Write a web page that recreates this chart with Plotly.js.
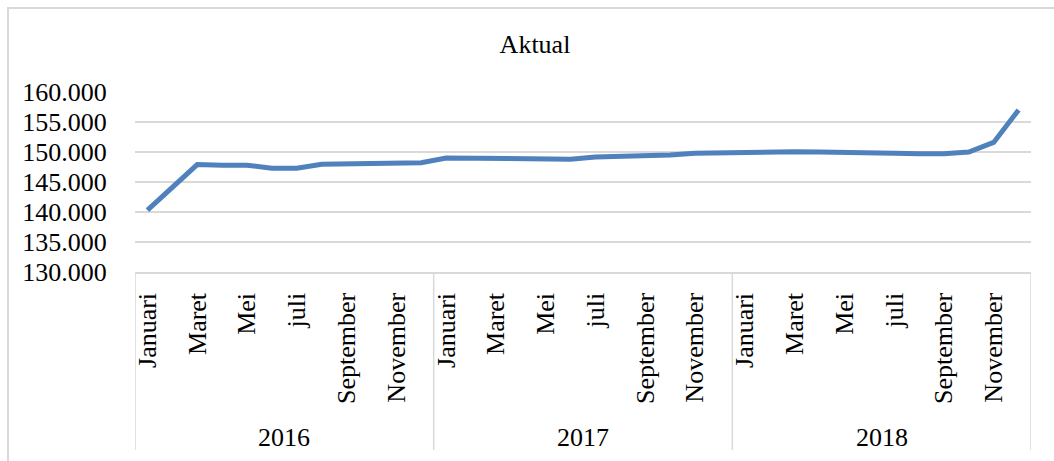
<!DOCTYPE html>
<html>
<head>
<meta charset="utf-8">
<script src="https://cdn.plot.ly/plotly-3.0.1.min.js"></script>
<style>
  html, body { margin: 0; padding: 0; background: #fff; overflow: hidden; }
  #wrap { position: relative; width: 1054px; height: 461px; }
  #chart { position: absolute; left: 0; top: 0; width: 1054px; height: 461px; }
  #frame { position: absolute; left: 7px; top: 7px; width: 1100px; height: 500px;
           border: 2px solid #d9d9d9; pointer-events: none; }
</style>
</head>
<body>
<div id="wrap">
  <div id="chart"></div>
  <div id="frame"></div>
</div>
<script>
const chartTitle = "Aktual";
const years = ["2016", "2017", "2018"];
const months = ["Januari", "Februari", "Maret", "April", "Mei", "Juni",
                "juli", "Agustus", "September", "Oktober", "November", "Desember"];
const values2016 = [140300, 144000, 147900, 147800, 147800, 147300, 147300, 147950, 148050, 148100, 148150, 148200];
const values2017 = [149000, 149000, 148950, 148900, 148900, 148800, 149150, 149200, 149450, 149500, 149800, 149900];
const values2018 = [150050, 150050, 150050, 150000, 150000, 149900, 149800, 149700, 149700, 150000, 151600, 157000];

const allValues = [].concat(values2016, values2017, values2018);
const xIdx = allValues.map((_, i) => i);
const tickIdx = xIdx.filter(i => i % 2 === 0);
const tickTxt = tickIdx.map(i => months[i % months.length]);

const fontFam = "Liberation Serif, Times New Roman, serif";
const gridCol = "#d9d9d9";

const figH = 461, plotTop = 92, plotBottom = 272;
const plotH = plotBottom - plotTop;

const shapes = [];
for (let g = 0; g <= years.length; g++) {
  shapes.push({
    type: "line", xref: "x", yref: "paper",
    x0: g * months.length - 0.5, x1: g * months.length - 0.5,
    y0: 0, y1: -(450 - plotBottom) / plotH,
    line: { color: gridCol, width: 1.5 }
  });
}
const annotations = years.map((y, g) => ({
  text: y, xref: "x", yref: "paper",
  x: g * months.length + (months.length - 1) / 2,
  y: -(437 - plotBottom) / plotH, yanchor: "middle", xanchor: "center",
  showarrow: false, font: { family: fontFam, size: 26, color: "#000" }
}));

Plotly.newPlot("chart", [{
  x: xIdx, y: allValues, type: "scatter", mode: "lines",
  line: { color: "#4f81bd", width: 5 },
  hoverinfo: "skip"
}], {
  width: 1054, height: figH,
  margin: { l: 135, r: 23, t: plotTop, b: figH - plotBottom, pad: 0 },
  paper_bgcolor: "#fff", plot_bgcolor: "#fff",
  separators: ",.",
  showlegend: false,
  title: {
    text: chartTitle, x: 535 / 1054, xanchor: "center",
    xref: "container", yref: "container", y: 1 - 44 / figH, yanchor: "middle",
    font: { family: fontFam, size: 26, color: "#000" }
  },
  xaxis: {
    range: [-0.5, allValues.length - 0.5],
    tickmode: "array", tickvals: tickIdx, ticktext: tickTxt,
    tickangle: -90, ticks: "outside", ticklen: 9, tickcolor: "rgba(0,0,0,0)",
    showgrid: false, zeroline: false,
    showline: true, linecolor: gridCol, linewidth: 1.5,
    tickfont: { family: fontFam, size: 26, color: "#000" },
    fixedrange: true
  },
  yaxis: {
    range: [130000, 160000], dtick: 5000, tick0: 130000,
    tickformat: ",.0f",
    ticks: "outside", ticklen: 22, tickcolor: "rgba(0,0,0,0)",
    showgrid: true, gridcolor: gridCol, gridwidth: 1.5,
    zeroline: false, showline: false,
    tickfont: { family: fontFam, size: 26, color: "#000" },
    fixedrange: true
  },
  shapes: shapes,
  annotations: annotations
}, { displayModeBar: false, staticPlot: true });
</script>
</body>
</html>
